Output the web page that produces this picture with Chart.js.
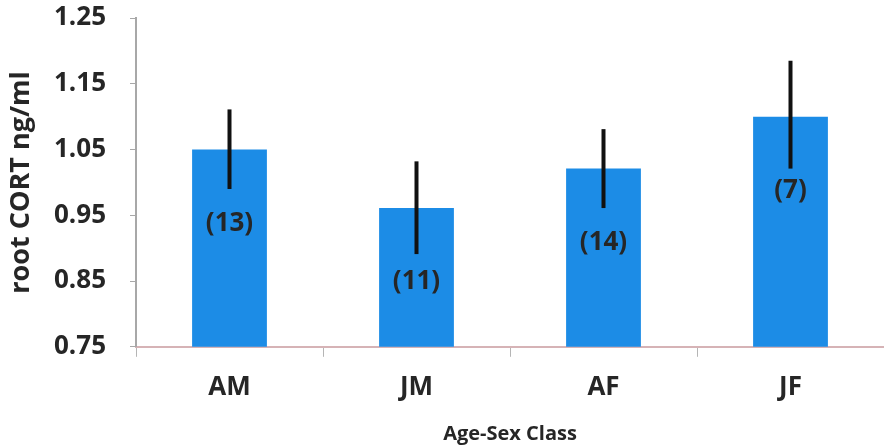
<!DOCTYPE html>
<html>
<head>
<meta charset="utf-8">
<script src="https://cdn.jsdelivr.net/npm/chart.js@4.4.1/dist/chart.umd.min.js"></script>
<style>
  html, body { margin: 0; background: #fff; }
  #wrap { width: 884px; height: 446px; }
</style>
</head>
<body>
<div id="wrap"><canvas id="c"></canvas></div>
<script>
const classes  = ['AM', 'JM', 'AF', 'JF'];
const meanCort = [1.05, 0.961, 1.021, 1.10];
const errLow   = [0.99, 0.891, 0.961, 1.021];
const errHigh  = [1.111, 1.032, 1.081, 1.185];
const sampleN  = ['(13)', '(11)', '(14)', '(7)'];
const yTicks   = [0.75, 0.85, 0.95, 1.05, 1.15, 1.25];

const FONT = "'Open Sans', sans-serif";
const INK = '#262626';

// error whiskers + sample sizes drawn on top of the bars
const barExtras = {
  id: 'barExtras',
  afterDatasetsDraw(chart) {
    const { ctx, scales: { y } } = chart;
    const bars = chart.getDatasetMeta(0).data;
    ctx.save();
    ctx.strokeStyle = '#111';
    ctx.lineWidth = 4;
    bars.forEach((b, i) => {
      ctx.beginPath();
      ctx.moveTo(b.x, y.getPixelForValue(errHigh[i]));
      ctx.lineTo(b.x, y.getPixelForValue(errLow[i]));
      ctx.stroke();
    });
    ctx.fillStyle = INK;
    ctx.font = `bold 26px ${FONT}`;
    ctx.textAlign = 'center';
    ctx.textBaseline = 'middle';
    bars.forEach((b, i) => ctx.fillText(sampleN[i], b.x, b.y + 74));
    ctx.restore();
  }
};

new Chart(document.getElementById('c'), {
  type: 'bar',
  data: {
    labels: classes,
    datasets: [{
      data: meanCort,
      backgroundColor: '#1c8ce6',
      borderWidth: 0,
      barPercentage: 0.8,
      categoryPercentage: 0.5
    }]
  },
  options: {
    animation: false, responsive: true, maintainAspectRatio: false,
    layout: { padding: { top: 0, right: 0, left: 0, bottom: 0 } },
    plugins: { legend: { display: false }, tooltip: { enabled: false } },
    scales: {
      x: {
        grid: { offset: true, drawOnChartArea: false, drawTicks: true, tickLength: 10, color: '#b5b5b5' },
        border: { display: true, color: '#d6b3b6', width: 2 },
        ticks: { color: INK, font: { family: FONT, size: 26, weight: 'bold' }, padding: 15 },
        title: { display: true, text: 'Age-Sex Class', color: INK, font: { family: FONT, size: 20, weight: 'bold' }, padding: { top: 4, bottom: 0 } }
      },
      y: {
        min: 0.75, max: 1.25,
        afterBuildTicks: (s) => { s.ticks = yTicks.map(v => ({ value: v })); },
        // tick padding would otherwise push the plot top down; pin the axis width too
        afterFit: (s) => { s.paddingTop = 18; s.paddingBottom = 0; s.width = 136; },
        grid: { drawOnChartArea: false, drawTicks: true, tickLength: 6, color: '#a8a8a8' },
        border: { display: true, color: '#a8a8a8', width: 2 },
        ticks: { color: INK, font: { family: FONT, size: 26, weight: 'bold' }, padding: 24,
                 callback: (v) => Number(v).toFixed(2) },
        title: { display: true, text: 'root CORT ng/ml', color: INK, font: { family: FONT, size: 27, weight: 'bold' }, padding: { top: 5, bottom: 2 } }
      }
    }
  },
  plugins: [barExtras]
});
</script>
</body>
</html>
